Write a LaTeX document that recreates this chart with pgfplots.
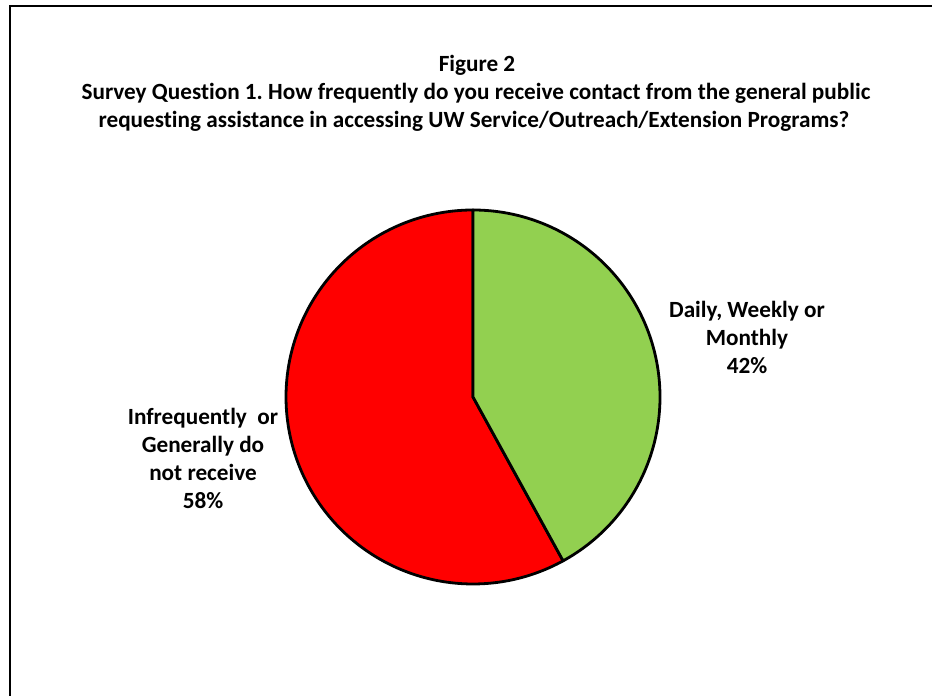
\documentclass[border=0pt]{standalone}
\usepackage{pgfplots}
\pgfplotsset{compat=1.18}
\usepackage{pgfplotstable}
\usepackage{fontspec}
\setmainfont{Carlito}[Ligatures=NoCommon]
\definecolor{pgreen}{HTML}{92D050}
\definecolor{pred}{HTML}{FF0000}
\pgfplotstableread{
label share
Daily 42
Infrequent 58
}\piedata
\frenchspacing
\begin{document}
\begin{tikzpicture}[x=1bp,y=1bp]
\fill[white] (0,0) rectangle (932,696);
\path[use as bounding box] (0,0) rectangle (932,696);
\pgfplotstablegetelem{0}{share}\of\piedata
\pgfmathsetmacro{\aEnd}{90-3.6*\pgfplotsretval}
\pgfmathsetmacro{\bEnd}{\aEnd+360}
\begin{axis}[at={(473bp,299bp)}, anchor=origin, x=187bp, y=187bp,
  xmin=-1, xmax=1, ymin=-1, ymax=1, hide axis, clip=false]
\addplot[fill=pred, draw=black, line width=2.8bp, line join=round, domain=90:\bEnd, samples=200]
  ({cos(x)},{sin(x)}) -- (axis cs:0,0) -- cycle;
\addplot[fill=pgreen, draw=black, line width=2.8bp, line join=round, domain=\aEnd:90, samples=200]
  ({cos(x)},{sin(x)}) -- (axis cs:0,0) -- cycle;
\end{axis}
\draw[line width=2.2bp] (10,-2) -- (10,690) -- (934,690);
\begin{scope}[every node/.style={anchor=base, inner sep=0pt, font=\bfseries\fontsize{23.3}{28}\selectfont}]
\node at (477,624) {Figure 2};
\node at (476,596) {Survey Question 1. How frequently do you receive contact from the general public};
\node at (474,568) {requesting assistance in accessing UW Service/Outreach/Extension Programs?};
\node at (747,378) {Daily, Weekly or};
\node at (747,350) {Monthly};
\node at (747,322) {42\%};
\node at (203,271) {Infrequently~ or};
\node at (203,243) {Generally do};
\node at (203,215) {not receive};
\node at (203,187) {58\%};
\end{scope}
\fill[white] (900,640) rectangle (932,688.6);
\end{tikzpicture}
\end{document}
